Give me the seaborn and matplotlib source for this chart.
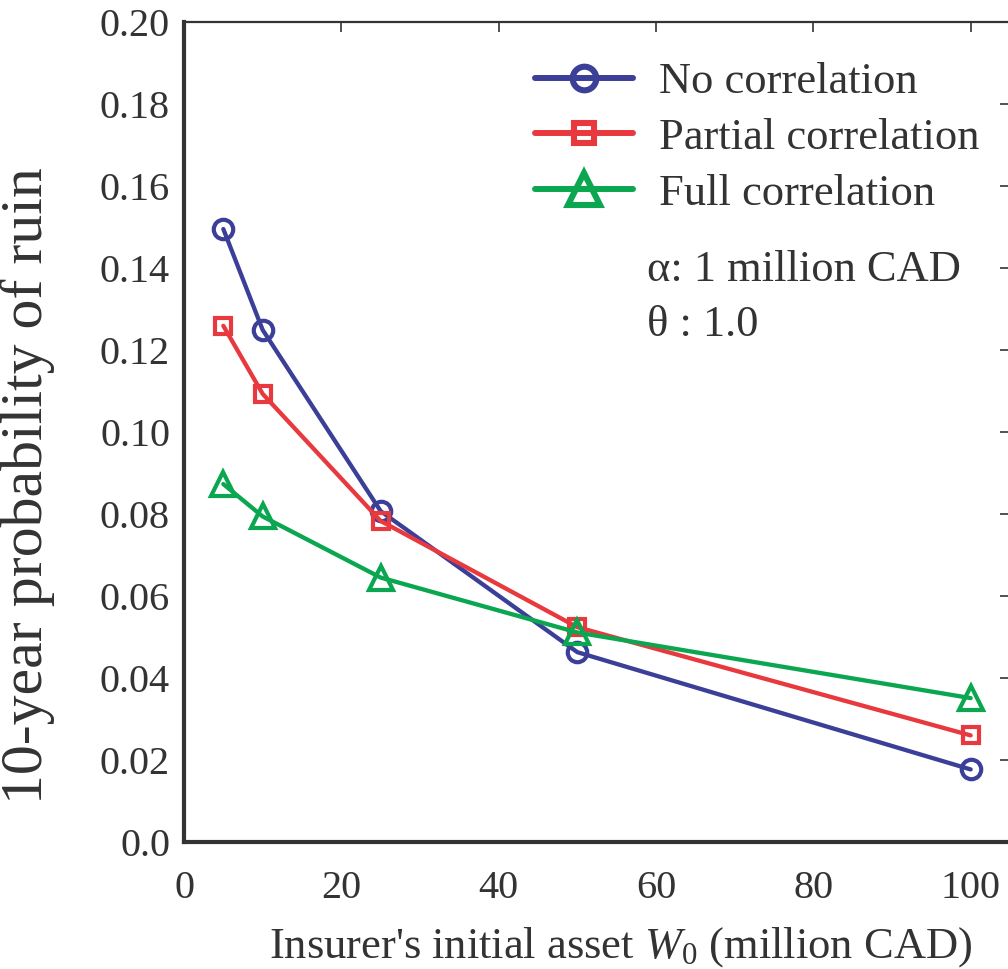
import matplotlib
matplotlib.use("Agg")
import matplotlib.pyplot as plt
import seaborn as sns
import pandas as pd
from matplotlib.lines import Line2D

x_vals = [5, 10, 25, 50, 100]
no_corr = [0.1495, 0.1249, 0.0807, 0.0463, 0.0177]
partial_corr = [0.1259, 0.1093, 0.0783, 0.0524, 0.0260]
full_corr = [0.0873, 0.0794, 0.0645, 0.0511, 0.0351]
series_names = ["No correlation", "Partial correlation", "Full correlation"]
colors = ["#3b3f98", "#e8393f", "#0aa650"]
markers = ["o", "s", "^"]
y_ticks = [0.0, 0.02, 0.04, 0.06, 0.08, 0.10, 0.12, 0.14, 0.16, 0.18, 0.20]
y_tick_labels = ["0.0", "0.02", "0.04", "0.06", "0.08", "0.10", "0.12", "0.14", "0.16", "0.18", "0.20"]
x_ticks = [0, 20, 40, 60, 80, 100]

sns.set_style("white")
plt.rcParams["font.family"] = ["Liberation Serif", "DejaVu Serif"]
plt.rcParams["mathtext.fontset"] = "custom"
plt.rcParams["mathtext.it"] = "Liberation Serif:italic"
plt.rcParams["mathtext.rm"] = "Liberation Serif"

fig = plt.figure(figsize=(10.08, 9.69), dpi=100)
ax = fig.add_axes([184/1008, 1-842/969, (1010-184)/1008, (842-22)/969])

plot_ms = {"o": 14, "s": 11, "^": 17}
leg_ms = {"o": 17, "s": 15, "^": 23}
handles = []
for name, vals, c, m in zip(series_names, [no_corr, partial_corr, full_corr], colors, markers):
    df = pd.DataFrame({"x": x_vals, "y": vals})
    sns.lineplot(data=df, x="x", y="y", ax=ax, color=c, lw=3.1, marker=m,
                 markersize=plot_ms[m], mfc="none", mec=c, mew=3, legend=False)
    handles.append(Line2D([], [], color=c, lw=4.3, marker=m, markersize=leg_ms[m],
                          mfc="none", mec=c, mew=4.4))

ax.set_xlim(0, 105)
ax.set_ylim(0, 0.20)
ax.set_xticks(x_ticks)
ax.set_yticks(y_ticks)
ax.set_yticklabels(y_tick_labels)
ax.tick_params(axis="both", direction="in", length=7, width=1.2, labelsize=29,
               colors="#333333", top=True, right=True)
ax.tick_params(axis="x", pad=20)
ax.tick_params(axis="y", pad=10)
for s in ["left", "bottom"]:
    ax.spines[s].set_linewidth(3)
    ax.spines[s].set_color("#333333")
for s in ["top", "right"]:
    ax.spines[s].set_linewidth(1.6)
    ax.spines[s].set_color("#333333")

ax.set_xlabel("Insurer's initial asset $W_0$ (million CAD)", fontsize=32, color="#333333", labelpad=13)
ax.set_ylabel("10-year probability of ruin", fontsize=43, color="#333333", labelpad=32)
ax.xaxis.label.set_x(0.529)
ax.yaxis.label.set_y(0.435)

leg = ax.legend(handles, series_names, loc="upper left", bbox_to_anchor=(0.387, 0.989),
                frameon=False, fontsize=32, handlelength=2.2, handletextpad=0.6,
                labelspacing=0.35, labelcolor="#333333", borderaxespad=0.3)

ax.text(0.561, 0.697, "α: 1 million CAD", transform=ax.transAxes, fontsize=32,
        color="#333333", va="center")
ax.text(0.561, 0.631, "θ : 1.0", transform=ax.transAxes, fontsize=32,
        color="#333333", va="center")

fig.savefig("out.png", dpi=100, facecolor="white")
